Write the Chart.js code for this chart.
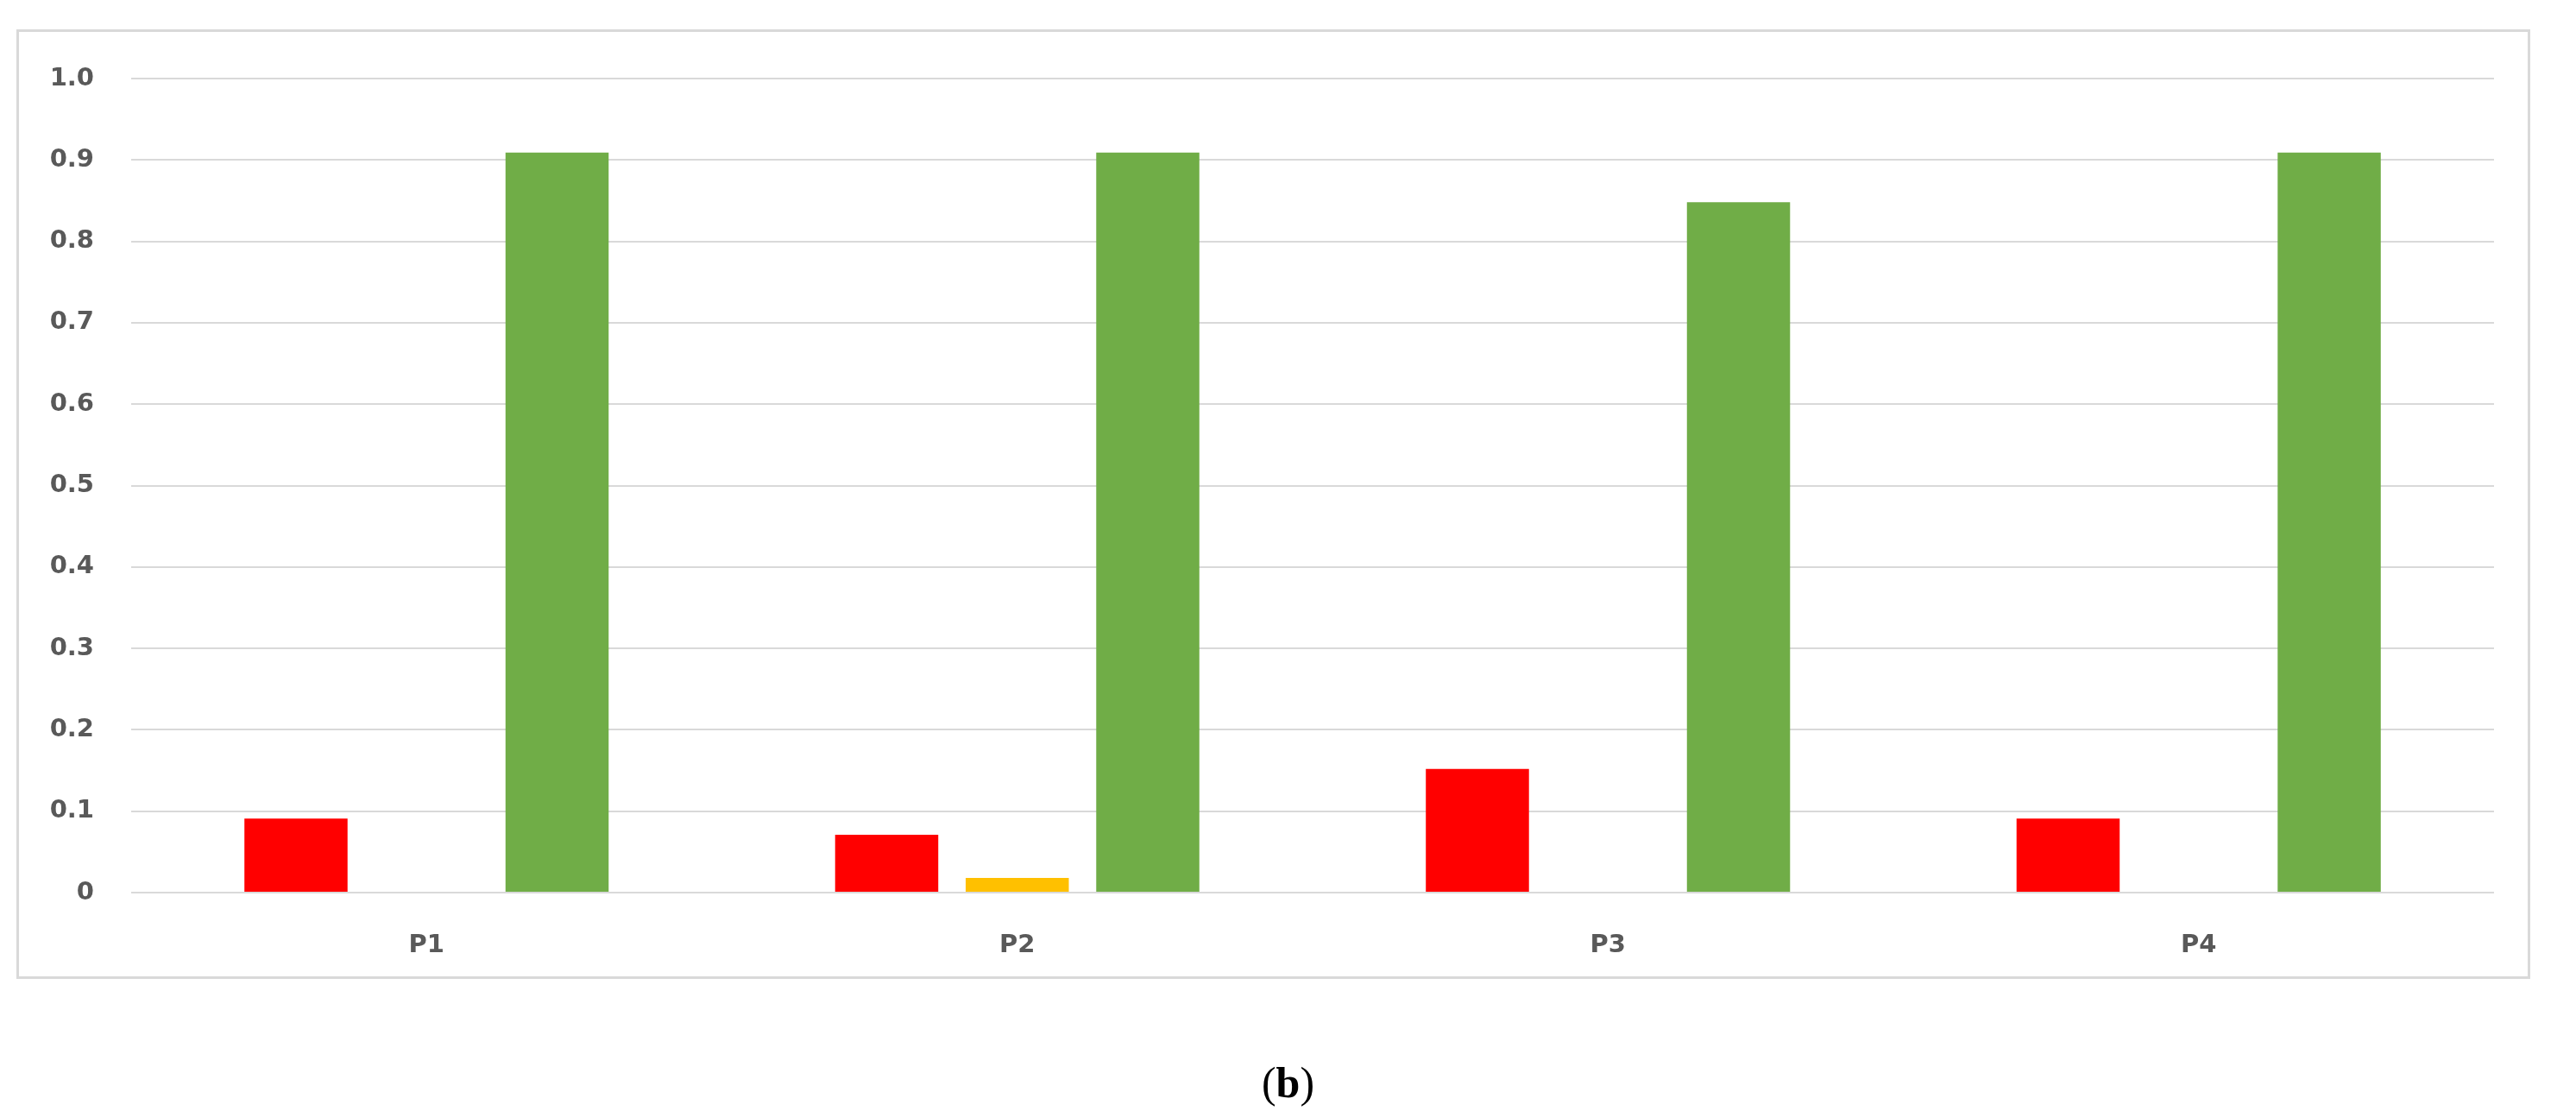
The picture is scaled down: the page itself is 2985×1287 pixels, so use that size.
<!DOCTYPE html>
<html>
<head>
<meta charset="utf-8">
<script src="https://cdn.jsdelivr.net/npm/chart.js@4/dist/chart.umd.min.js"></script>
<style>
  html, body { margin: 0; padding: 0; background: #fff; }
  #wrap { position: relative; width: 2985px; height: 1287px; }
  #frame { position: absolute; left: 19px; top: 34px; width: 2907px; height: 1094px; border: 3px solid #d9d9d9; pointer-events: none; }
  #caption { position: absolute; left: 0; width: 2985px; top: 1225px; text-align: center; font-family: "Liberation Serif", serif; font-size: 50px; color: #000; }
</style>
</head>
<body>
<div id="wrap">
  <canvas id="chart" width="2985" height="1287"></canvas>
  <div id="frame"></div>
  <div id="caption">(<b>b</b>)</div>
</div>
<script>
// Data
const categories = ['P1', 'P2', 'P3', 'P4'];
const redValues = [0.091, 0.071, 0.152, 0.091];
const yellowValues = [0, 0.018, 0, 0];
const greenValues = [0.909, 0.909, 0.848, 0.909];
const yTicks = [0, 0.1, 0.2, 0.3, 0.4, 0.5, 0.6, 0.7, 0.8, 0.9, 1];

const tickFont = { family: 'DejaVu Sans', size: 29, weight: 'bold' };

new Chart(document.getElementById('chart').getContext('2d'), {
    type: 'bar',
    data: {
        labels: categories,
        datasets: [
            { data: redValues, backgroundColor: '#ff0000' },
            { data: yellowValues, backgroundColor: '#ffc000' },
            { data: greenValues, backgroundColor: '#70ad47' }
        ]
    },
    options: {
        responsive: false,
        animation: false,
        categoryPercentage: 0.663,
        barPercentage: 0.79,
        layout: { padding: { top: 91, right: 95, left: 0, bottom: 0 } },
        plugins: { legend: { display: false }, tooltip: { enabled: false } },
        scales: {
            x: {
                grid: { display: false, drawTicks: false },
                border: { display: false },
                ticks: { color: '#595959', font: tickFont, padding: 44 },
                afterFit: scale => { scale.height = 253; }
            },
            y: {
                min: 0,
                max: 1,
                afterBuildTicks: scale => { scale.ticks = yTicks.map(v => ({ value: v })); },
                grid: { color: '#d9d9d9', lineWidth: 2, drawTicks: false },
                border: { display: false },
                ticks: { color: '#595959', font: tickFont, padding: 43 },
                afterFit: scale => { scale.width = 152; }
            }
        }
    }
});
</script>
</body>
</html>
